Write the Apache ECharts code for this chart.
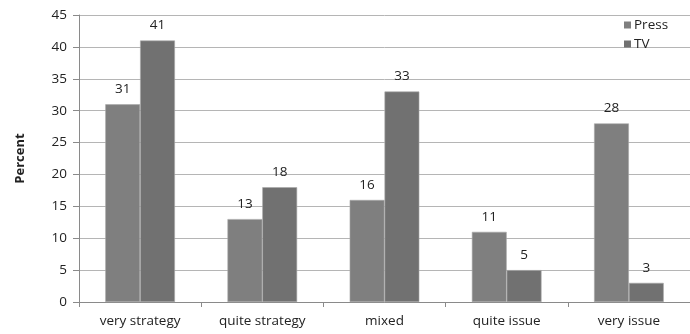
<!DOCTYPE html>
<html>
<head>
<meta charset="utf-8">
<script src="https://cdn.jsdelivr.net/npm/echarts@6/dist/echarts.min.js"></script>
<style>
  html, body { margin: 0; padding: 0; background: #ffffff; }
  #chart { width: 690px; height: 334px; }
</style>
</head>
<body>
<div id="chart"></div>
<script>
// Framing categories and the share of coverage for each medium
const categories = ['very strategy', 'quite strategy', 'mixed', 'quite issue', 'very issue'];
const pressValues = [31, 13, 16, 11, 28];
const tvValues = [41, 18, 33, 5, 3];
const yTicks = { min: 0, max: 45, step: 5 };

const FONT = '"Open Sans", "Liberation Sans", sans-serif';
const FONT_SIZE = 13.5;

const chart = echarts.init(document.getElementById('chart'), null, { renderer: 'canvas' });

const labelStyle = {
  show: true,
  position: 'top',
  distance: 8,
  color: '#222',
  fontFamily: FONT,
  fontSize: FONT_SIZE
};

chart.setOption({
  animation: false,
  backgroundColor: '#ffffff',
  grid: { left: 79, right: -9, top: 15, bottom: 32, containLabel: false },
  legend: {
    orient: 'vertical',
    left: 619,
    top: 13,
    itemWidth: 7,
    itemHeight: 7,
    itemGap: 5,
    icon: 'rect',
    itemStyle: { borderWidth: 0 },
    textStyle: { fontFamily: FONT, fontSize: FONT_SIZE, color: '#222', padding: [0, 0, 0, -2] },
    data: ['Press', 'TV']
  },
  xAxis: {
    type: 'category',
    data: categories,
    axisLine: { lineStyle: { color: '#8a8a8a', width: 1 } },
    axisTick: { show: true, alignWithLabel: false, length: 5, lineStyle: { color: '#8a8a8a' } },
    axisLabel: { color: '#222', fontFamily: FONT, fontSize: FONT_SIZE, margin: 12 }
  },
  yAxis: {
    type: 'value',
    min: yTicks.min,
    max: yTicks.max,
    interval: yTicks.step,
    name: 'Percent',
    nameLocation: 'middle',
    nameGap: 52,
    nameRotate: 90,
    nameTextStyle: { fontFamily: FONT, fontSize: 13, fontWeight: 'bold', color: '#222' },
    axisLine: { show: true, lineStyle: { color: '#8a8a8a', width: 1 } },
    axisTick: { show: true, length: 6, lineStyle: { color: '#8a8a8a' } },
    axisLabel: { color: '#222', fontFamily: FONT, fontSize: FONT_SIZE, margin: 12 },
    splitLine: { show: true, lineStyle: { color: '#b5b5b5', width: 1 } }
  },
  series: [
    {
      name: 'Press',
      type: 'bar',
      data: pressValues,
      barGap: '0%',
      barCategoryGap: '43%',
      itemStyle: { color: '#7f7f7f', borderColor: '#a8a8a8', borderWidth: 0.6 },
      label: labelStyle
    },
    {
      name: 'TV',
      type: 'bar',
      data: tvValues,
      barGap: '0%',
      barCategoryGap: '43%',
      itemStyle: { color: '#717171', borderColor: '#a8a8a8', borderWidth: 0.6 },
      label: labelStyle
    }
  ]
});
</script>
</body>
</html>
